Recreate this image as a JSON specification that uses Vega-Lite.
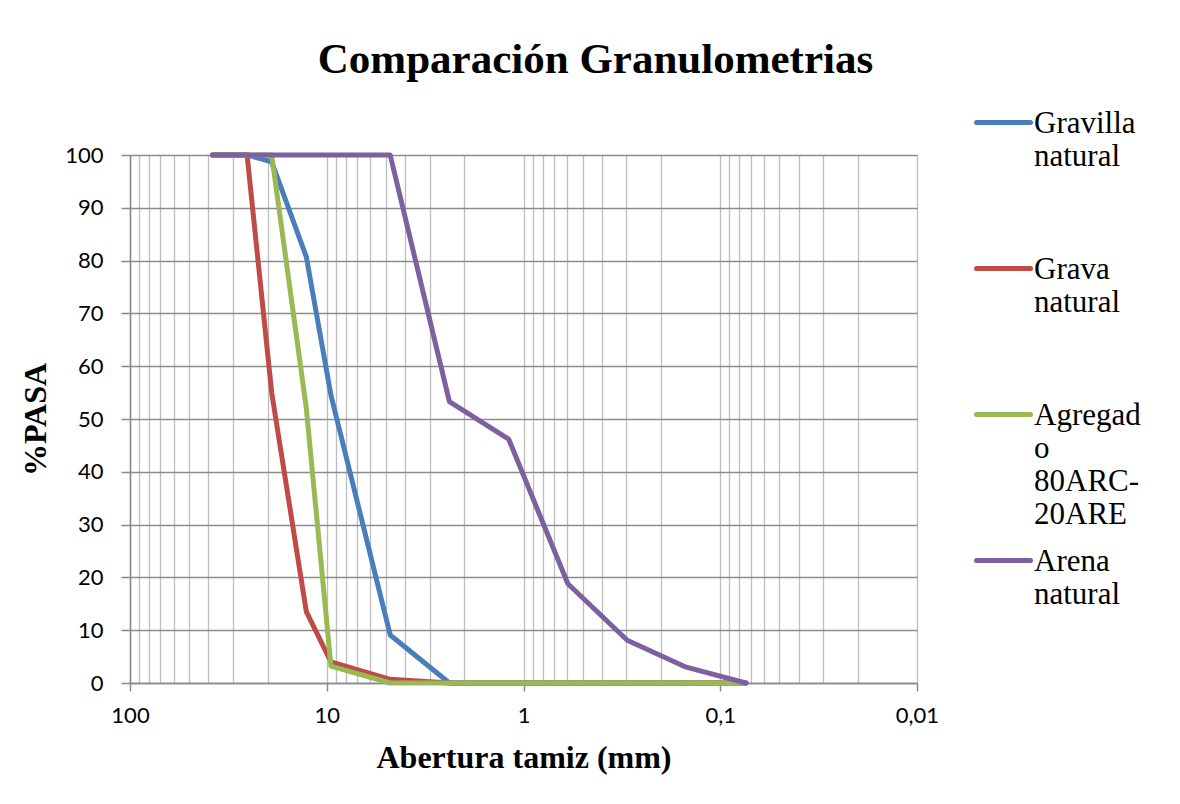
{
  "$schema": "https://vega.github.io/schema/vega-lite/v6.json",
  "autosize": {"type": "none"},
  "width": 787,
  "height": 528,
  "padding": {"left": 130, "top": 155, "right": 263, "bottom": 121},
  "background": "white",
  "title": {
    "text": "Comparación Granulometrias",
    "font": "Liberation Serif",
    "fontSize": 43,
    "fontWeight": "bold",
    "color": "black",
    "anchor": "middle",
    "dx": 72,
    "baseline": "alphabetic",
    "offset": -23
  },
  "data": {
    "values": [
      {"serie": "Gravilla natural", "abertura": 38.1, "pasa": 100},
      {"serie": "Gravilla natural", "abertura": 25.4, "pasa": 100},
      {"serie": "Gravilla natural", "abertura": 19.05, "pasa": 98.7},
      {"serie": "Gravilla natural", "abertura": 12.7, "pasa": 80.7},
      {"serie": "Gravilla natural", "abertura": 9.52, "pasa": 54.5},
      {"serie": "Gravilla natural", "abertura": 4.76, "pasa": 9.1},
      {"serie": "Gravilla natural", "abertura": 2.38, "pasa": 0},
      {"serie": "Gravilla natural", "abertura": 1.19, "pasa": 0},
      {"serie": "Gravilla natural", "abertura": 0.595, "pasa": 0},
      {"serie": "Gravilla natural", "abertura": 0.297, "pasa": 0},
      {"serie": "Gravilla natural", "abertura": 0.149, "pasa": 0},
      {"serie": "Gravilla natural", "abertura": 0.074, "pasa": 0},
      {"serie": "Grava natural", "abertura": 38.1, "pasa": 100},
      {"serie": "Grava natural", "abertura": 25.4, "pasa": 100},
      {"serie": "Grava natural", "abertura": 19.05, "pasa": 55},
      {"serie": "Grava natural", "abertura": 12.7, "pasa": 13.5},
      {"serie": "Grava natural", "abertura": 9.52, "pasa": 4.0},
      {"serie": "Grava natural", "abertura": 4.76, "pasa": 0.7},
      {"serie": "Grava natural", "abertura": 2.38, "pasa": 0},
      {"serie": "Grava natural", "abertura": 1.19, "pasa": 0},
      {"serie": "Grava natural", "abertura": 0.595, "pasa": 0},
      {"serie": "Grava natural", "abertura": 0.297, "pasa": 0},
      {"serie": "Grava natural", "abertura": 0.149, "pasa": 0},
      {"serie": "Grava natural", "abertura": 0.074, "pasa": 0},
      {"serie": "Agregado 80ARC-20ARE", "abertura": 38.1, "pasa": 100},
      {"serie": "Agregado 80ARC-20ARE", "abertura": 25.4, "pasa": 100},
      {"serie": "Agregado 80ARC-20ARE", "abertura": 19.05, "pasa": 100},
      {"serie": "Agregado 80ARC-20ARE", "abertura": 12.7, "pasa": 52},
      {"serie": "Agregado 80ARC-20ARE", "abertura": 9.52, "pasa": 3.2},
      {"serie": "Agregado 80ARC-20ARE", "abertura": 4.76, "pasa": 0},
      {"serie": "Agregado 80ARC-20ARE", "abertura": 2.38, "pasa": 0},
      {"serie": "Agregado 80ARC-20ARE", "abertura": 1.19, "pasa": 0},
      {"serie": "Agregado 80ARC-20ARE", "abertura": 0.595, "pasa": 0},
      {"serie": "Agregado 80ARC-20ARE", "abertura": 0.297, "pasa": 0},
      {"serie": "Agregado 80ARC-20ARE", "abertura": 0.149, "pasa": 0},
      {"serie": "Agregado 80ARC-20ARE", "abertura": 0.074, "pasa": 0},
      {"serie": "Arena natural", "abertura": 38.1, "pasa": 100},
      {"serie": "Arena natural", "abertura": 25.4, "pasa": 100},
      {"serie": "Arena natural", "abertura": 19.05, "pasa": 100},
      {"serie": "Arena natural", "abertura": 12.7, "pasa": 100},
      {"serie": "Arena natural", "abertura": 9.52, "pasa": 100},
      {"serie": "Arena natural", "abertura": 4.76, "pasa": 100},
      {"serie": "Arena natural", "abertura": 2.38, "pasa": 53.3},
      {"serie": "Arena natural", "abertura": 1.19, "pasa": 46.2},
      {"serie": "Arena natural", "abertura": 0.595, "pasa": 18.8},
      {"serie": "Arena natural", "abertura": 0.297, "pasa": 8.1},
      {"serie": "Arena natural", "abertura": 0.149, "pasa": 3.0},
      {"serie": "Arena natural", "abertura": 0.074, "pasa": 0}
    ]
  },
  "mark": {"type": "line", "strokeWidth": 5, "strokeCap": "round", "strokeJoin": "round"},
  "encoding": {
    "x": {
      "field": "abertura",
      "type": "quantitative",
      "scale": {"type": "log", "domain": [0.01, 100], "reverse": true, "nice": false},
      "axis": {
        "title": "Abertura tamiz (mm)",
        "titleFont": "Liberation Serif",
        "titleFontSize": 32,
        "titleFontWeight": "bold",
        "titleColor": "black",
        "titlePadding": 16,
        "values": [100, 90, 80, 70, 60, 50, 40, 30, 20, 10, 9, 8, 7, 6, 5, 4, 3, 2, 1, 0.9, 0.8, 0.7, 0.6, 0.5, 0.4, 0.3, 0.2, 0.1, 0.09, 0.08, 0.07, 0.06, 0.05, 0.04, 0.03, 0.02, 0.01],
        "labelExpr": "abs(log(datum.value)/LN10 - round(log(datum.value)/LN10)) < 0.000001 ? replace(toString(datum.value), '.', ',') : ''",
        "labelFont": "Lato",
        "labelFontSize": 22,
        "labelColor": "black",
        "labelPadding": 14,
        "labelFlush": false,
        "labelOverlap": false,
        "grid": true,
        "gridColor": "#bdbdbd",
        "gridWidth": 1.3,
        "domainColor": "#888888",
        "domainWidth": 1.5,
        "tickColor": "#888888",
        "tickWidth": 1.5,
        "tickSize": 8,
        "tickOpacity": {"condition": {"test": "abs(log(datum.value)/LN10 - round(log(datum.value)/LN10)) < 0.000001", "value": 1}, "value": 0}
      }
    },
    "y": {
      "field": "pasa",
      "type": "quantitative",
      "scale": {"domain": [0, 100], "nice": false},
      "axis": {
        "title": "%PASA",
        "titleFont": "Liberation Serif",
        "titleFontSize": 32,
        "titleFontWeight": "bold",
        "titleColor": "black",
        "titlePadding": 12,
        "values": [0, 10, 20, 30, 40, 50, 60, 70, 80, 90, 100],
        "labelFont": "Lato",
        "labelFontSize": 22,
        "labelColor": "black",
        "labelPadding": 18,
        "grid": true,
        "gridColor": "#8c8c8c",
        "gridWidth": 1.5,
        "domainColor": "#888888",
        "domainWidth": 1.5,
        "tickColor": "#888888",
        "tickWidth": 1.5,
        "tickSize": 9
      }
    },
    "color": {
      "field": "serie",
      "type": "nominal",
      "scale": {
        "domain": ["Gravilla natural", "Grava natural", "Agregado 80ARC-20ARE", "Arena natural"],
        "range": ["#4a7ebb", "#be4b48", "#98b954", "#7d60a0"]
      },
      "legend": {
        "title": null,
        "orient": "none",
        "legendX": 844,
        "legendY": -62,
        "padding": 0,
        "direction": "vertical",
        "columns": 1,
        "gridAlign": "all",
        "rowPadding": 0,
        "symbolType": "stroke",
        "symbolSize": 2916,
        "symbolStrokeWidth": 5,
        "labelFont": "Liberation Serif",
        "labelFontSize": 31,
        "labelColor": "black",
        "labelOffset": 1,
        "labelBaseline": "top",
        "labelLimit": 220,
        "labelExpr": "datum.label == 'Agregado 80ARC-20ARE' ? ['Agregad', 'o', '80ARC-', '20ARE'] : split(datum.label, ' ')",
        "encode": {
          "labels": {"update": {"lineHeight": {"value": 33.3}, "dy": {"value": -14}, "font": {"value": "Liberation Serif"}}},
          "symbols": {"update": {"strokeCap": {"value": "round"}}}
        }
      }
    }
  },
  "config": {
    "view": {"stroke": null}
  }
}
